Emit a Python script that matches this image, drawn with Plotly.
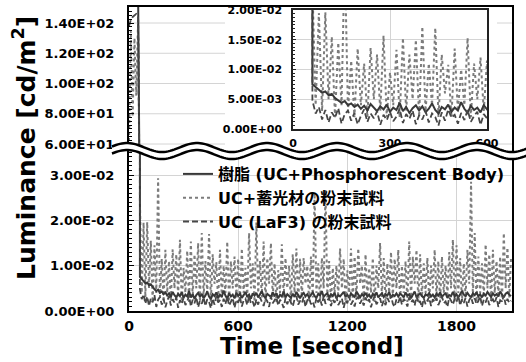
import math
import plotly.graph_objects as go

# ---------------- data ----------------
time_s = list(range(0, 2101, 10))  # sampling instants, seconds

resin_uc_phos = [  # 樹脂 (UC+Phosphorescent Body) - solid
    160, 160, 160, 160, 160, 160, 0.0075, 0.0071, 0.0066, 0.0061,
    0.0063, 0.0057, 0.0059, 0.0052, 0.0048, 0.0044, 0.0047, 0.0040, 0.0043, 0.0037,
    0.0041, 0.0034, 0.0039, 0.0031, 0.0042, 0.0035, 0.0030, 0.0038, 0.0033, 0.0041,
    0.0029, 0.0036, 0.0032, 0.0044, 0.0030, 0.0037, 0.0027, 0.0035, 0.0040, 0.0031,
    0.0038, 0.0028, 0.0034, 0.0043, 0.0032, 0.0026, 0.0037, 0.0033, 0.0041, 0.0029,
    0.0036, 0.0031, 0.0045, 0.0034, 0.0027, 0.0039, 0.0032, 0.0036, 0.0028, 0.0040,
    0.0033, 0.0038, 0.0029, 0.0035, 0.0042, 0.0031, 0.0036, 0.0027, 0.0039, 0.0034,
    0.0040, 0.0030, 0.0036, 0.0044, 0.0033, 0.0029, 0.0038, 0.0035, 0.0031, 0.0041,
    0.0034, 0.0039, 0.0028, 0.0036, 0.0032, 0.0043, 0.0030, 0.0037, 0.0033, 0.0029,
    0.0038, 0.0031, 0.0042, 0.0035, 0.0028, 0.0036, 0.0040, 0.0032, 0.0037, 0.0030,
    0.0035, 0.0041, 0.0033, 0.0029, 0.0038, 0.0034, 0.0044, 0.0031, 0.0036, 0.0039,
    0.0030, 0.0037, 0.0033, 0.0040, 0.0028, 0.0035, 0.0032, 0.0038, 0.0042, 0.0031,
    0.0036, 0.0029, 0.0039, 0.0034, 0.0031, 0.0043, 0.0035, 0.0030, 0.0037, 0.0033,
    0.0040, 0.0032, 0.0036, 0.0028, 0.0038, 0.0034, 0.0041, 0.0030, 0.0035, 0.0039,
    0.0031, 0.0037, 0.0034, 0.0042, 0.0029, 0.0036, 0.0033, 0.0039, 0.0032, 0.0038,
    0.0035, 0.0030, 0.0041, 0.0034, 0.0037, 0.0028, 0.0036, 0.0043, 0.0031, 0.0035,
    0.0039, 0.0033, 0.0029, 0.0037, 0.0034, 0.0040, 0.0032, 0.0036, 0.0030, 0.0038,
    0.0034, 0.0041, 0.0031, 0.0036, 0.0039, 0.0029, 0.0035, 0.0033, 0.0042, 0.0032,
    0.0037, 0.0030, 0.0038, 0.0044, 0.0036, 0.0033, 0.0040, 0.0034, 0.0031, 0.0039,
    0.0035, 0.0041, 0.0032, 0.0037, 0.0030, 0.0038, 0.0034, 0.0042, 0.0036, 0.0031,
    0.0039, 0.0034, 0.0037, 0.0032, 0.0043, 0.0035, 0.0030, 0.0038, 0.0041, 0.0036,
    0.0033,
]

uc_phos_powder = [  # UC+蓄光材の粉末試料 - dotted
    62, 135, 78, 130, 92, 142, 0.024, 0.004, 0.0195, 0.003,
    0.0196, 0.005, 0.0155, 0.002, 0.0145, 0.004, 0.0293, 0.003, 0.0115, 0.002,
    0.0135, 0.004, 0.011, 0.002, 0.0136, 0.005, 0.0125, 0.003, 0.0157, 0.002,
    0.0095, 0.004, 0.0133, 0.002, 0.0153, 0.003, 0.0125, 0.005, 0.015, 0.002,
    0.0172, 0.003, 0.011, 0.004, 0.017, 0.002, 0.0125, 0.006, 0.0108, 0.002,
    0.0135, 0.003, 0.010, 0.004, 0.0153, 0.002, 0.011, 0.005, 0.012, 0.003,
    0.0115, 0.002, 0.0138, 0.004, 0.0095, 0.003, 0.0172, 0.005, 0.0105, 0.002,
    0.0195, 0.004, 0.011, 0.003, 0.0153, 0.002, 0.0117, 0.006, 0.015, 0.003,
    0.0105, 0.002, 0.009, 0.004, 0.0147, 0.003, 0.0117, 0.005, 0.010, 0.002,
    0.0125, 0.004, 0.0138, 0.002, 0.0115, 0.003, 0.0117, 0.006, 0.010, 0.002,
    0.012, 0.003, 0.026, 0.004, 0.0105, 0.002, 0.0117, 0.005, 0.0267, 0.003,
    0.011, 0.002, 0.0095, 0.004, 0.010, 0.003, 0.0138, 0.005, 0.0115, 0.002,
    0.009, 0.004, 0.0138, 0.002, 0.012, 0.003, 0.0138, 0.006, 0.010, 0.002,
    0.0125, 0.003, 0.0095, 0.004, 0.0117, 0.002, 0.010, 0.005, 0.015, 0.003,
    0.0117, 0.002, 0.0105, 0.004, 0.013, 0.003, 0.0115, 0.005, 0.0135, 0.002,
    0.010, 0.004, 0.011, 0.002, 0.0153, 0.003, 0.012, 0.006, 0.0135, 0.002,
    0.0125, 0.003, 0.0105, 0.004, 0.0117, 0.002, 0.010, 0.005, 0.0135, 0.003,
    0.011, 0.002, 0.012, 0.004, 0.010, 0.003, 0.013, 0.005, 0.0157, 0.002,
    0.0145, 0.004, 0.0117, 0.002, 0.0105, 0.003, 0.0135, 0.006, 0.0285, 0.003,
    0.0172, 0.002, 0.012, 0.004, 0.0105, 0.003, 0.0147, 0.005, 0.0125, 0.002,
    0.0135, 0.004, 0.011, 0.003, 0.012, 0.002, 0.0172, 0.005, 0.014, 0.003,
    0.012,
]

uc_laf3_powder = [  # UC (LaF3) の粉末試料 - dashed
    138, 142, 144, 145, 146, 145, 0.0048, 0.0026, 0.0037, 0.0016,
    0.0032, 0.0011, 0.0028, 0.0019, 0.0035, 0.0009, 0.0025, 0.0031, 0.0014, 0.0027,
    0.0008, 0.0022, 0.0033, 0.0012, 0.0026, 0.0018, 0.0030, 0.0007, 0.0024, 0.0015,
    0.0029, 0.0013, 0.0021, 0.0034, 0.0010, 0.0025, 0.0017, 0.0031, 0.0008, 0.0023,
    0.0016, 0.0030, 0.0011, 0.0026, 0.0020, 0.0006, 0.0028, 0.0014, 0.0033, 0.0019,
    0.0024, 0.0009, 0.0027, 0.0015, 0.0032, 0.0012, 0.0022, 0.0029, 0.0007, 0.0025,
    0.0018, 0.0031, 0.0010, 0.0023, 0.0027, 0.0013, 0.0034, 0.0016, 0.0021, 0.0008,
    0.0026, 0.0014, 0.0030, 0.0019, 0.0011, 0.0028, 0.0022, 0.0009, 0.0032, 0.0017,
    0.0023, 0.0030, 0.0012, 0.0025, 0.0018, 0.0007, 0.0029, 0.0015, 0.0027, 0.0020,
    0.0010, 0.0026, 0.0033, 0.0014, 0.0022, 0.0017, 0.0031, 0.0009, 0.0024, 0.0028,
    0.0015, 0.0021, 0.0008, 0.0030, 0.0019, 0.0027, 0.0012, 0.0034, 0.0016, 0.0023,
    0.0029, 0.0011, 0.0025, 0.0018, 0.0032, 0.0013, 0.0020, 0.0028, 0.0007, 0.0024,
    0.0017, 0.0033, 0.0014, 0.0022, 0.0010, 0.0027, 0.0031, 0.0016, 0.0025, 0.0012,
    0.0030, 0.0019, 0.0026, 0.0008, 0.0023, 0.0032, 0.0015, 0.0021, 0.0028, 0.0011,
    0.0024, 0.0013, 0.0029, 0.0020, 0.0035, 0.0016, 0.0009, 0.0026, 0.0018, 0.0031,
    0.0014, 0.0027, 0.0021, 0.0010, 0.0030, 0.0019, 0.0025, 0.0012, 0.0033, 0.0017,
    0.0022, 0.0008, 0.0028, 0.0015, 0.0024, 0.0031, 0.0011, 0.0026, 0.0019, 0.0029,
    0.0013, 0.0025, 0.0032, 0.0017, 0.0021, 0.0009, 0.0030, 0.0023, 0.0014, 0.0027,
    0.0020, 0.0034, 0.0012, 0.0026, 0.0018, 0.0029, 0.0010, 0.0024, 0.0031, 0.0016,
    0.0028, 0.0015, 0.0022, 0.0033, 0.0011, 0.0025, 0.0019, 0.0030, 0.0013, 0.0021,
    0.0026, 0.0017, 0.0031, 0.0009, 0.0024, 0.0020, 0.0035, 0.0014, 0.0027, 0.0018,
    0.0023,
]

series_names = ["樹脂 (UC+Phosphorescent Body)", "UC+蓄光材の粉末試料", "UC (LaF3) の粉末試料"]

low_ticks = [0, 0.01, 0.02, 0.03]
low_labels = ["0.00E+00", "1.00E-02", "2.00E-02", "3.00E-02"]
high_ticks = [60, 80, 100, 120, 140]
high_labels = ["6.00E+01", "8.00E+01", "1.00E+02", "1.20E+02", "1.40E+02"]
x_ticks = [0, 600, 1200, 1800]
inset_y_ticks = [0, 0.005, 0.01, 0.015, 0.02]
inset_y_labels = ["0.00E+00", "5.00E-03", "1.00E-02", "1.50E-02", "2.00E-02"]
inset_x_ticks = [0, 300, 600]

# ---------------- layout geometry ----------------
W, H = 526, 362
ML, MR, MT, MB = 129, 14, 7, 51
PW, PH = W - ML - MR, H - MT - MB


def px_x(px):
    return (px - ML) / PW


def px_y(py):
    return (H - MB - py) / PH


BREAK = 151
FONT = "DejaVu Sans, Noto Sans CJK JP, sans-serif"

styles = [
    dict(color="#383838", width=2),
    dict(color="#7c7c7c", width=2, dash="dot"),
    dict(color="#474747", width=1.8, dash="6px,3px"),
]
datasets = [resin_uc_phos, uc_phos_powder, uc_laf3_powder]

fig = go.Figure()
draw_order = [1, 0, 2]
for k in draw_order:
    for xa, ya, show in (("x", "y", True), ("x2", "y2", False), ("x3", "y3", False)):
        fig.add_trace(go.Scatter(
            x=time_s, y=datasets[k], mode="lines", line=styles[k],
            name=series_names[k], legendrank=k + 1, showlegend=show,
            xaxis=xa, yaxis=ya, hoverinfo="skip",
        ))

tickfont = dict(family=FONT, size=13, color="black", weight="bold")
grid = "#d4d4d4"

fig.update_layout(
    width=W, height=H, margin=dict(l=ML, r=MR, t=MT, b=MB, autoexpand=False),
    paper_bgcolor="white", plot_bgcolor="white",
    font=dict(family=FONT, color="black"),
    xaxis=dict(domain=[0, 1], range=[0, 2105], anchor="y", tickvals=x_ticks, automargin=False,
               showgrid=True, gridcolor=grid, gridwidth=1, zeroline=False,
               showline=True, linecolor="black", linewidth=2, ticks="",
               tickfont=dict(family=FONT, size=14, color="black", weight="bold"),
               ticklabelstandoff=1),
    yaxis=dict(domain=[0, px_y(BREAK)], range=[0, 0.03 + (175 - BREAK) / 4533], automargin=False,
               anchor="x", tickvals=low_ticks, ticktext=low_labels,
               showgrid=True, gridcolor=grid, zeroline=False,
               showline=True, mirror=True, linecolor="black", linewidth=2,
               ticks="inside", ticklen=5, tickcolor="black",
               minor=dict(ticks="inside", ticklen=3, dtick=0.001, tickcolor="black", showgrid=False),
               tickfont=tickfont, ticklabelstandoff=10),
    xaxis2=dict(domain=[0, 1], range=[0, 2105], anchor="y2", matches="x", automargin=False,
                showticklabels=False, showgrid=False, zeroline=False, ticks="",
                showline=True, side="top", linecolor="black", linewidth=2),
    yaxis2=dict(domain=[px_y(BREAK), 1], range=[60 - (BREAK - 144) / 1.5125, 140 + 16 / 1.5125],
                anchor="x2", tickvals=high_ticks, ticktext=high_labels, automargin=False,
                showgrid=False, zeroline=False,
                showline=True, mirror=True, linecolor="black", linewidth=2,
                ticks="inside", ticklen=5, tickcolor="black",
                minor=dict(ticks="inside", ticklen=3, dtick=2.5, tickcolor="black", showgrid=False),
                tickfont=tickfont, ticklabelstandoff=10),
    xaxis3=dict(domain=[px_x(293), px_x(487)], range=[0, 600], anchor="y3", automargin=False,
                tickvals=inset_x_ticks, showgrid=True, gridcolor=grid, zeroline=False,
                showline=True, mirror=True, linecolor="#222", linewidth=1.5, ticks="",
                tickfont=dict(family=FONT, size=11, color="black", weight="bold"),
                ticklabelstandoff=3),
    yaxis3=dict(domain=[px_y(129), px_y(10)], range=[0, 0.02], anchor="x3", automargin=False,
                tickvals=inset_y_ticks, ticktext=inset_y_labels,
                showgrid=True, gridcolor=grid, zeroline=False,
                showline=True, mirror=True, linecolor="#222", linewidth=1.5,
                ticks="inside", ticklen=3, tickcolor="#222",
                minor=dict(ticks="inside", ticklen=2, dtick=0.000625, tickcolor="#222", showgrid=False),
                tickfont=dict(family=FONT, size=11, color="black", weight="bold"),
                ticklabelstandoff=7),
    legend=dict(x=px_x(178), y=px_y(157), xanchor="left", yanchor="top",
                bgcolor="rgba(0,0,0,0)", borderwidth=0,
                font=dict(family=FONT, size=16, color="black", weight="bold"),
                tracegroupgap=0),
    showlegend=True,
)

shapes = []
# upper-segment horizontal gridlines (interrupted by the inset panel)
for v in high_ticks:
    for a, b in ((0, px_x(225)), (px_x(497), 1)):
        shapes.append(dict(type="line", xref="paper", yref="y2", x0=a, x1=b, y0=v, y1=v,
                           line=dict(color=grid, width=1), layer="below"))

# axis break band (wavy)
xs = [112 + 2 * i for i in range(210)]
centre = [BREAK - 4.5 * math.cos(2 * math.pi * (x - 127) / 70) for x in xs]
top = [(px_x(x), px_y(c - 3.5)) for x, c in zip(xs, centre)]
bot = [(px_x(x), px_y(c + 3.5)) for x, c in zip(xs, centre)]


def path_of(pts, close=False):
    s = "M " + " L ".join(f"{a:.5f},{b:.5f}" for a, b in pts)
    return s + (" Z" if close else "")


shapes.append(dict(type="path", xref="paper", yref="paper", path=path_of(top + bot[::-1], True),
                   fillcolor="white", line=dict(width=0), layer="above"))
for pts in (top, bot):
    shapes.append(dict(type="path", xref="paper", yref="paper", path=path_of(pts),
                       line=dict(color="black", width=2.5), layer="above"))
fig.update_layout(shapes=shapes)

fig.add_annotation(text="Time [second]", xref="paper", yref="paper",
                   x=px_x(312), y=px_y(346), xanchor="center", yanchor="middle", showarrow=False,
                   font=dict(family=FONT, size=23, color="black", weight="bold"))
fig.add_annotation(text="Luminance [cd/m<sup>2</sup>]", xref="paper", yref="paper",
                   x=px_x(24), y=px_y(148), xanchor="center", yanchor="middle", showarrow=False,
                   textangle=-90,
                   font=dict(family=FONT, size=25, color="black", weight="bold"))

fig.write_html("out.html", config={"displayModeBar": False},
               post_script="document.body.style.margin='0';document.body.style.overflow='hidden';")
